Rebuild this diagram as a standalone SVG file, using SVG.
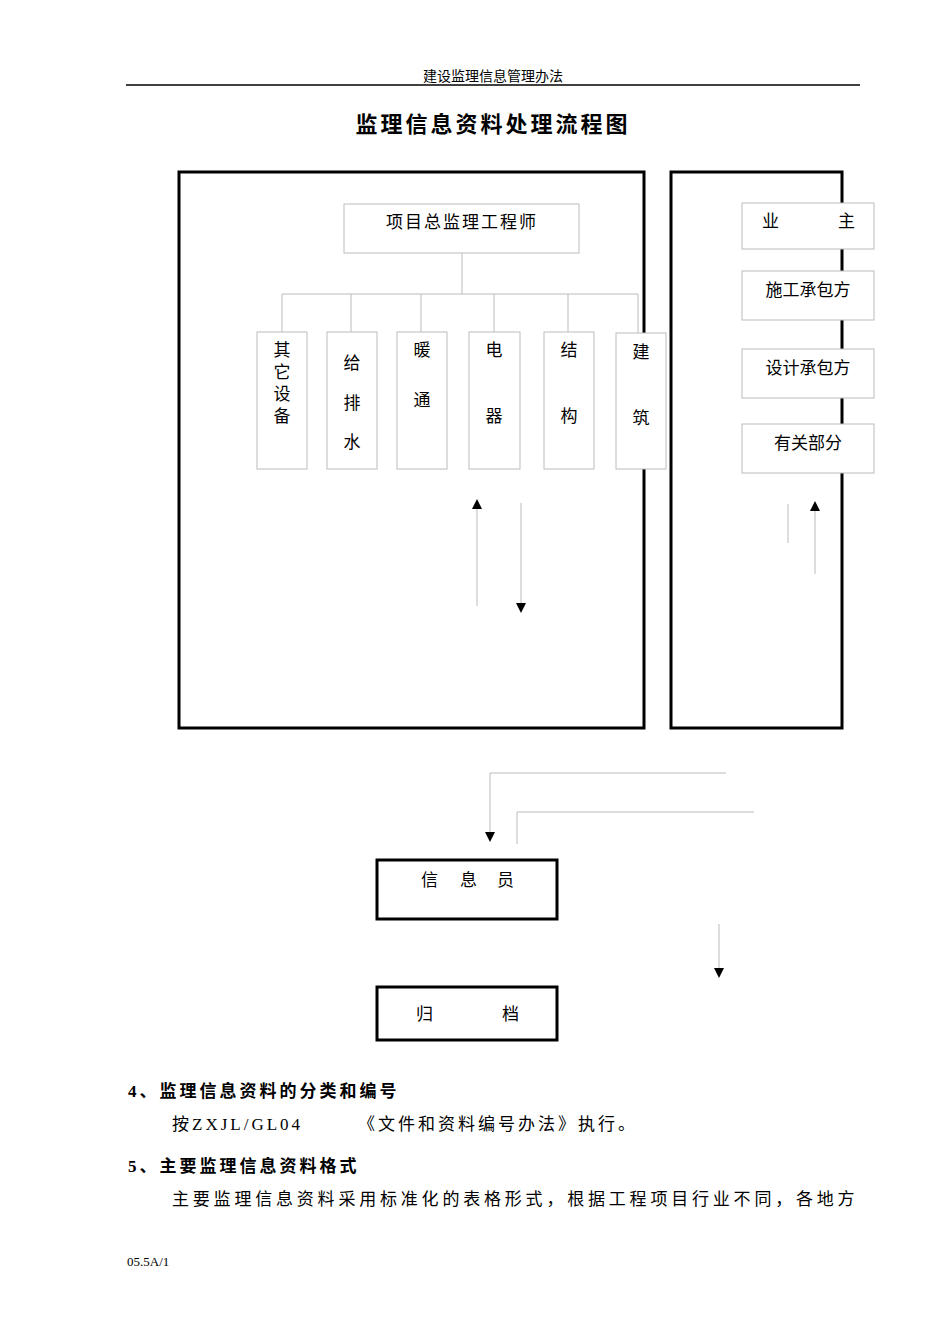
<svg xmlns="http://www.w3.org/2000/svg" width="950" height="1344" viewBox="0 0 950 1344">
<style>
text{font-family:"Liberation Serif","Noto Sans CJK SC",serif;fill:#000}
.t{font-size:17px}
.box{fill:#fff;stroke:#bbb;stroke-width:1}
.frame{fill:none;stroke:#000;stroke-width:3}
.thick{fill:#fff;stroke:#000;stroke-width:3}
.ln{fill:none;stroke:#bbb;stroke-width:1}
</style>
<defs><marker id="ah" markerWidth="10" markerHeight="10" refX="5" refY="5" orient="auto" markerUnits="userSpaceOnUse"><path d="M0,0 L10,5 L0,10 z" fill="#000"/></marker></defs>
<text x="493" y="81" text-anchor="middle" font-size="14" fill="#444">建设监理信息管理办法</text>
<line x1="126" y1="85" x2="860" y2="85" stroke="#000" stroke-width="1.5"/>
<text x="493" y="132" text-anchor="middle" font-size="22" font-weight="bold" letter-spacing="3">监理信息资料处理流程图</text>
<rect class="frame" x="179" y="172" width="465" height="556"/>
<rect class="frame" x="671" y="172" width="171" height="556"/>
<g id="connectors">
<path class="ln" d="M462,253 V294 M282,294 H638 M282,294 V332 M351,294 V332 M421,294 V332 M494,294 V332 M568,294 V332 M638,294 V333"/>
<line class="ln" x1="477" y1="606" x2="477" y2="504" marker-end="url(#ah)"/>
<line class="ln" x1="521" y1="503" x2="521" y2="608" marker-end="url(#ah)"/>
<line class="ln" x1="788" y1="504" x2="788" y2="543"/>
<line class="ln" x1="815" y1="574" x2="815" y2="506" marker-end="url(#ah)"/>
<path class="ln" d="M726,773 H490 V837" marker-end="url(#ah)"/>
<path class="ln" d="M754,812 H517 V844"/>
<line class="ln" x1="719" y1="924" x2="719" y2="973" marker-end="url(#ah)"/>
</g>
<g id="n-zong"><rect class="box" x="344" y="204" width="235" height="49"/><text class="t" x="462" y="228" text-anchor="middle" letter-spacing="2">项目总监理工程师</text></g>
<g id="n-qita"><rect class="box" x="257" y="332" width="50" height="137"/><text class="t" x="282" y="356" text-anchor="middle">其</text><text class="t" x="282" y="378" text-anchor="middle">它</text><text class="t" x="282" y="400" text-anchor="middle">设</text><text class="t" x="282" y="422" text-anchor="middle">备</text></g>
<g id="n-jipai"><rect class="box" x="327" y="332" width="50" height="137"/><text class="t" x="352" y="369" text-anchor="middle">给</text><text class="t" x="352" y="409" text-anchor="middle">排</text><text class="t" x="352" y="448" text-anchor="middle">水</text></g>
<g id="n-nuan"><rect class="box" x="397" y="332" width="50" height="137"/><text class="t" x="422" y="356" text-anchor="middle">暖</text><text class="t" x="422" y="406" text-anchor="middle">通</text></g>
<g id="n-dian"><rect class="box" x="469" y="332" width="51" height="137"/><text class="t" x="494" y="356" text-anchor="middle">电</text><text class="t" x="494" y="422" text-anchor="middle">器</text></g>
<g id="n-jie"><rect class="box" x="544" y="332" width="50" height="137"/><text class="t" x="569" y="356" text-anchor="middle">结</text><text class="t" x="569" y="422" text-anchor="middle">构</text></g>
<g id="n-jian"><rect class="box" x="616" y="333" width="50" height="136"/><text class="t" x="641" y="358" text-anchor="middle">建</text><text class="t" x="641" y="424" text-anchor="middle">筑</text></g>
<g id="n-ye"><rect class="box" x="742" y="203" width="132" height="46"/><text class="t" x="762" y="227">业</text><text class="t" x="838" y="227">主</text></g>
<g id="n-shigong"><rect class="box" x="742" y="271" width="132" height="49"/><text class="t" x="808" y="296" text-anchor="middle">施工承包方</text></g>
<g id="n-sheji"><rect class="box" x="742" y="349" width="132" height="49"/><text class="t" x="808" y="374" text-anchor="middle">设计承包方</text></g>
<g id="n-youguan"><rect class="box" x="742" y="424" width="132" height="49"/><text class="t" x="808" y="449" text-anchor="middle">有关部分</text></g>
<g id="n-xinxi"><rect class="thick" x="377" y="860" width="180" height="59"/><text class="t" x="421" y="886">信</text><text class="t" x="460" y="886">息</text><text class="t" x="497" y="886">员</text></g>
<g id="n-guidang"><rect class="thick" x="377" y="987" width="180" height="53"/><text class="t" x="416" y="1020">归</text><text class="t" x="502" y="1020">档</text></g>
<text x="128" y="1097" font-size="17" font-weight="bold" letter-spacing="3">4、监理信息资料的分类和编号</text>
<text x="172" y="1130" font-size="17" letter-spacing="3">按ZXJL/GL04</text>
<text x="358" y="1130" font-size="17" letter-spacing="3">《文件和资料编号办法》执行。</text>
<text x="128" y="1172" font-size="17" font-weight="bold" letter-spacing="3">5、主要监理信息资料格式</text>
<text x="172" y="1205" font-size="17" letter-spacing="3.8">主要监理信息资料采用标准化的表格形式，根据工程项目行业不同，各地方</text>
<text x="127" y="1266" font-size="13" fill="#444">05.5A/1</text>
</svg>
